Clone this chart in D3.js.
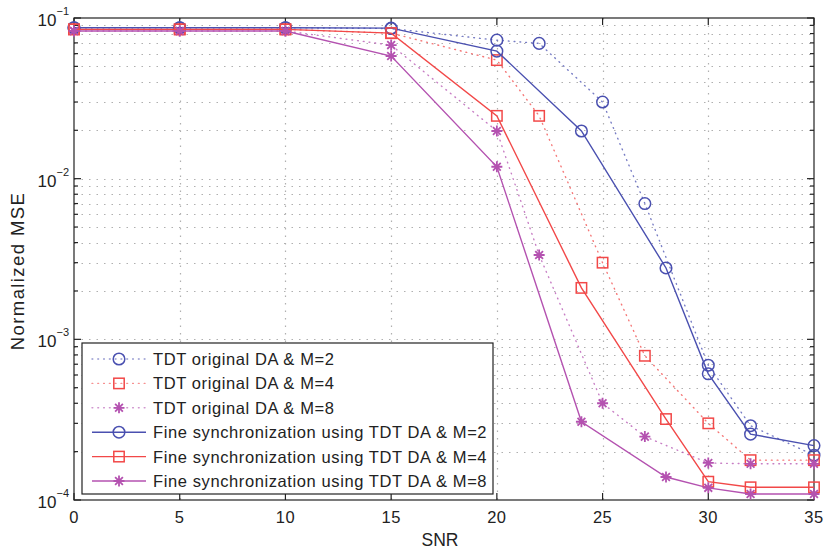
<!DOCTYPE html>
<html>
<head>
<meta charset="utf-8">
<script src="https://cdn.jsdelivr.net/npm/d3@7"></script>
<style>
  html, body { margin: 0; padding: 0; background: #fff; }
  svg { display: block; font-family: "Liberation Sans", Arial, Helvetica, sans-serif; }
</style>
</head>
<body>
<svg id="chart" width="827" height="551"></svg>
<script>
// SNR points for each curve
const snrOriginal = [0, 5, 10, 15, 20, 22, 25, 27, 30, 32, 35];
const snrFine     = [0, 5, 10, 15, 20, 24, 28, 30, 32, 35];

// Normalized MSE, original TDT data-aided estimator
const origM2 = [0.087, 0.087, 0.087, 0.086, 0.0728, 0.0695, 0.030, 0.0070, 0.00069, 0.00029, 0.00019];
const origM4 = [0.085, 0.085, 0.085, 0.0805, 0.0547, 0.0246, 0.0030, 0.00079, 0.00030, 0.000177, 0.000177];
const origM8 = [0.083, 0.083, 0.083, 0.0678, 0.0198, 0.00335, 0.00040, 0.000248, 0.00017, 0.000168, 0.000168];

// Normalized MSE, fine synchronization using TDT DA
const fineM2 = [0.087, 0.087, 0.087, 0.0865, 0.0622, 0.0198, 0.00278, 0.00061, 0.000257, 0.000218];
const fineM4 = [0.085, 0.085, 0.085, 0.0805, 0.0246, 0.00209, 0.000319, 0.00013, 0.00012, 0.00012];
const fineM8 = [0.083, 0.083, 0.083, 0.058, 0.01186, 0.000307, 0.000139, 0.000119, 0.000109, 0.000109];

const xTicks = [0, 5, 10, 15, 20, 25, 30, 35];
const yDecades = [1e-4, 1e-3, 1e-2, 1e-1];
const yExponents = ["−4", "−3", "−2", "−1"];

const seriesNames = [
  "TDT original DA & M=2",
  "TDT original DA & M=4",
  "TDT original DA & M=8",
  "Fine synchronization using TDT DA & M=2",
  "Fine synchronization using TDT DA & M=4",
  "Fine synchronization using TDT DA & M=8"
];

const blue = "#4a50b0", red = "#f24848", purple = "#b452b0";

const series = [
  { name: seriesNames[0], x: snrOriginal, y: origM2, color: blue,   marker: "circle", dotted: true },
  { name: seriesNames[1], x: snrOriginal, y: origM4, color: red,    marker: "square", dotted: true },
  { name: seriesNames[2], x: snrOriginal, y: origM8, color: purple, marker: "star",   dotted: true },
  { name: seriesNames[3], x: snrFine,     y: fineM2, color: blue,   marker: "circle", dotted: false },
  { name: seriesNames[4], x: snrFine,     y: fineM4, color: red,    marker: "square", dotted: false },
  { name: seriesNames[5], x: snrFine,     y: fineM8, color: purple, marker: "star",   dotted: false }
];

const svg = d3.select("#chart");
const pLeft = 74, pRight = 814, pTop = 18, pBottom = 500;

const x = d3.scaleLinear().domain([0, 35]).range([pLeft, pRight]);
const y = d3.scaleLog().domain([1e-4, 1e-1]).range([pBottom, pTop]);

// minor decade values 2..9 × 10^k
const minorVals = [];
[1e-4, 1e-3, 1e-2].forEach(d => { for (let m = 2; m <= 9; m++) minorVals.push(m * d); });

const grid = svg.append("g").attr("stroke", "#b0b0b0").attr("stroke-width", 1.2)
  .attr("stroke-dasharray", "1.5,6");
// horizontal grid at every decade subdivision
grid.selectAll("line.h").data(minorVals.concat(yDecades.slice(1, 3))).join("line")
  .attr("x1", pLeft).attr("x2", pRight)
  .attr("y1", d => Math.round(y(d)) + 0.5).attr("y2", d => Math.round(y(d)) + 0.5);
// vertical grid at major SNR ticks
grid.selectAll("line.v").data(xTicks.slice(1, -1)).join("line")
  .attr("y1", pTop).attr("y2", pBottom)
  .attr("x1", d => Math.round(x(d)) + 0.5).attr("x2", d => Math.round(x(d)) + 0.5);

// axis frame with inward ticks
const frame = svg.append("g").attr("stroke", "#222").attr("stroke-width", 1.2).attr("fill", "none");
frame.append("rect").attr("x", pLeft).attr("y", pTop).attr("width", pRight - pLeft).attr("height", pBottom - pTop);
xTicks.forEach(t => {
  const px = x(t);
  frame.append("line").attr("x1", px).attr("x2", px).attr("y1", pBottom).attr("y2", pBottom - 7);
  frame.append("line").attr("x1", px).attr("x2", px).attr("y1", pTop).attr("y2", pTop + 7);
});
yDecades.forEach(v => {
  const py = y(v);
  frame.append("line").attr("x1", pLeft).attr("x2", pLeft + 7).attr("y1", py).attr("y2", py);
  frame.append("line").attr("x1", pRight).attr("x2", pRight - 7).attr("y1", py).attr("y2", py);
});
minorVals.forEach(v => {
  const py = y(v);
  frame.append("line").attr("x1", pLeft).attr("x2", pLeft + 4).attr("y1", py).attr("y2", py);
  frame.append("line").attr("x1", pRight).attr("x2", pRight - 4).attr("y1", py).attr("y2", py);
});

// tick labels
const labels = svg.append("g").attr("fill", "#222");
labels.selectAll("text.xt").data(xTicks).join("text")
  .attr("x", d => x(d)).attr("y", 523).attr("text-anchor", "middle")
  .attr("font-size", 16.5).attr("letter-spacing", 0.5).text(d => d);
yDecades.forEach((v, i) => {
  const t = labels.append("text").attr("x", 69).attr("y", y(v) + 8)
    .attr("text-anchor", "end").attr("font-size", 17);
  t.append("tspan").text("10");
  t.append("tspan").attr("dy", -11).attr("font-size", 11).text(yExponents[i]);
});
labels.append("text").attr("x", 440).attr("y", 546).attr("text-anchor", "middle")
  .attr("font-size", 17.5).text("SNR");
labels.append("text").attr("transform", "translate(24,271) rotate(-90)")
  .attr("text-anchor", "middle").attr("font-size", 18.5).attr("letter-spacing", 1.4)
  .text("Normalized MSE");

// marker drawing
function drawMarker(g, kind, color, px, py) {
  if (kind === "circle") {
    g.append("circle").attr("cx", px).attr("cy", py).attr("r", 5.8)
      .attr("fill", "none").attr("stroke", color).attr("stroke-width", 1.5);
  } else if (kind === "square") {
    g.append("rect").attr("x", px - 5.2).attr("y", py - 5.2).attr("width", 10.4).attr("height", 10.4)
      .attr("fill", "none").attr("stroke", color).attr("stroke-width", 1.5);
  } else {
    const r = 5.5, d = r * Math.SQRT1_2;
    const p = `M${px - r},${py}L${px + r},${py}M${px},${py - r}L${px},${py + r}` +
      `M${px - d},${py - d}L${px + d},${py + d}M${px - d},${py + d}L${px + d},${py - d}`;
    g.append("path").attr("d", p).attr("stroke", color).attr("stroke-width", 1.8).attr("fill", "none");
  }
}

const plot = svg.append("g");
const line = d3.line().x(d => x(d[0])).y(d => y(d[1]));
series.forEach(s => {
  const pts = s.x.map((v, i) => [v, s.y[i]]);
  plot.append("path").datum(pts).attr("d", line).attr("fill", "none")
    .attr("stroke", s.color).attr("stroke-width", s.dotted ? 1.4 : 1.4)
    .attr("stroke-dasharray", s.dotted ? "0.8,5" : null)
    .attr("stroke-linecap", s.dotted ? "round" : "butt")
    .attr("opacity", s.dotted ? 0.75 : 1);
  const mg = plot.append("g");
  pts.forEach(p => drawMarker(mg, s.marker, s.color, x(p[0]), y(p[1])));
});

// legend
const lg = svg.append("g");
lg.append("rect").attr("x", 82).attr("y", 343).attr("width", 411).attr("height", 151)
  .attr("fill", "#fff").attr("stroke", "#222").attr("stroke-width", 1.2);
series.forEach((s, i) => {
  const ly = 359 + i * 24.4;
  lg.append("line").attr("x1", 92).attr("x2", 146).attr("y1", ly).attr("y2", ly)
    .attr("stroke", s.color).attr("stroke-width", 1.4)
    .attr("stroke-dasharray", s.dotted ? "0.8,5" : null)
    .attr("stroke-linecap", s.dotted ? "round" : "butt")
    .attr("opacity", s.dotted ? 0.6 : 1);
  drawMarker(lg, s.marker, s.color, 119, ly);
  lg.append("text").attr("x", 153).attr("y", ly + 6).attr("font-size", 16.5)
    .attr("letter-spacing", 0.6).attr("fill", "#222").text(s.name);
});
</script>
</body>
</html>
